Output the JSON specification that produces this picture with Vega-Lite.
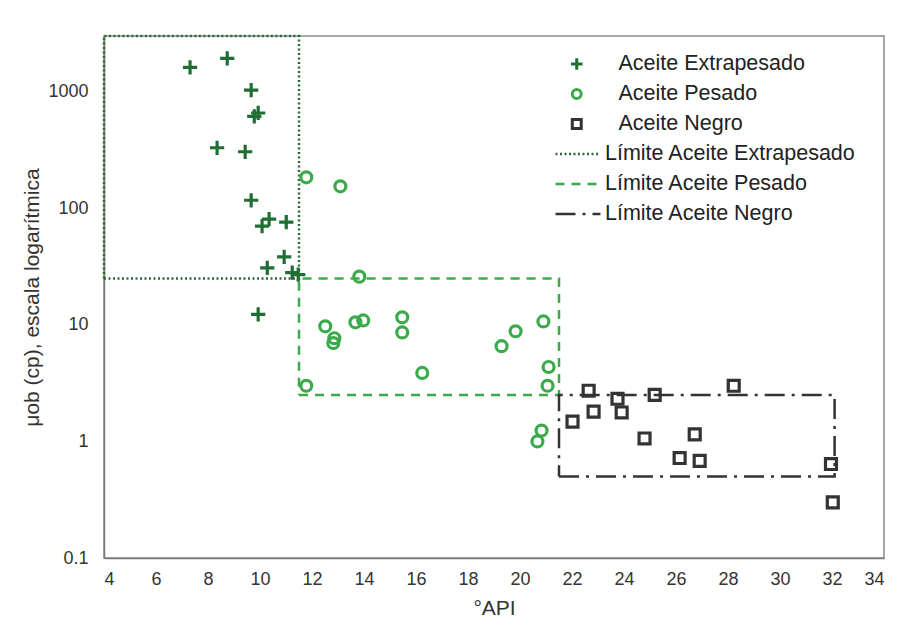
{
  "$schema": "https://vega.github.io/schema/vega-lite/v6.json",
  "width": 780,
  "height": 522,
  "autosize": "none",
  "padding": {"left": 104, "top": 36, "right": 31, "bottom": 78},
  "background": "white",
  "config": {
    "view": {"stroke": "#8a8a8a", "strokeWidth": 1.5},
    "font": "Liberation Sans",
    "axis": {
      "grid": false, "ticks": false, "domainColor": "#7a7a7a", "domainWidth": 1.5,
      "labelFont": "Liberation Sans", "labelFontSize": 18, "labelColor": "#333",
      "titleFont": "Liberation Sans", "titleFontSize": 21, "titleFontWeight": "normal", "titleColor": "#333"
    },
    "legend": {"labelFont": "Liberation Sans", "labelFontSize": 21.5, "labelColor": "#222", "title": null, "labelLimit": 400}
  },
  "datasets": {
    "pts": [
      {"api": 7.31, "mu": 1617, "tipo": "Aceite Extrapesado"},
      {"api": 8.74, "mu": 1928, "tipo": "Aceite Extrapesado"},
      {"api": 9.66, "mu": 1030, "tipo": "Aceite Extrapesado"},
      {"api": 9.78, "mu": 614, "tipo": "Aceite Extrapesado"},
      {"api": 9.93, "mu": 656, "tipo": "Aceite Extrapesado"},
      {"api": 8.35, "mu": 330, "tipo": "Aceite Extrapesado"},
      {"api": 9.43, "mu": 305, "tipo": "Aceite Extrapesado"},
      {"api": 9.66, "mu": 117, "tipo": "Aceite Extrapesado"},
      {"api": 10.08, "mu": 70.3, "tipo": "Aceite Extrapesado"},
      {"api": 10.35, "mu": 80.6, "tipo": "Aceite Extrapesado"},
      {"api": 11.01, "mu": 76, "tipo": "Aceite Extrapesado"},
      {"api": 10.93, "mu": 38.3, "tipo": "Aceite Extrapesado"},
      {"api": 10.28, "mu": 30.8, "tipo": "Aceite Extrapesado"},
      {"api": 11.24, "mu": 28, "tipo": "Aceite Extrapesado"},
      {"api": 11.47, "mu": 26.9, "tipo": "Aceite Extrapesado"},
      {"api": 9.93, "mu": 12.3, "tipo": "Aceite Extrapesado"},
      {"api": 11.78, "mu": 184, "tipo": "Aceite Pesado"},
      {"api": 13.09, "mu": 154, "tipo": "Aceite Pesado"},
      {"api": 13.82, "mu": 25.9, "tipo": "Aceite Pesado"},
      {"api": 12.51, "mu": 9.7, "tipo": "Aceite Pesado"},
      {"api": 12.86, "mu": 7.67, "tipo": "Aceite Pesado"},
      {"api": 12.82, "mu": 6.97, "tipo": "Aceite Pesado"},
      {"api": 13.67, "mu": 10.5, "tipo": "Aceite Pesado"},
      {"api": 13.97, "mu": 10.9, "tipo": "Aceite Pesado"},
      {"api": 15.47, "mu": 11.6, "tipo": "Aceite Pesado"},
      {"api": 15.47, "mu": 8.6, "tipo": "Aceite Pesado"},
      {"api": 16.24, "mu": 3.87, "tipo": "Aceite Pesado"},
      {"api": 19.29, "mu": 6.56, "tipo": "Aceite Pesado"},
      {"api": 19.83, "mu": 8.8, "tipo": "Aceite Pesado"},
      {"api": 20.9, "mu": 10.7, "tipo": "Aceite Pesado"},
      {"api": 21.1, "mu": 4.35, "tipo": "Aceite Pesado"},
      {"api": 21.06, "mu": 3.0, "tipo": "Aceite Pesado"},
      {"api": 11.78, "mu": 3.0, "tipo": "Aceite Pesado"},
      {"api": 20.83, "mu": 1.24, "tipo": "Aceite Pesado"},
      {"api": 20.67, "mu": 1.0, "tipo": "Aceite Pesado"},
      {"api": 22.64, "mu": 2.72, "tipo": "Aceite Negro"},
      {"api": 23.75, "mu": 2.32, "tipo": "Aceite Negro"},
      {"api": 25.18, "mu": 2.51, "tipo": "Aceite Negro"},
      {"api": 28.22, "mu": 3.0, "tipo": "Aceite Negro"},
      {"api": 22.83, "mu": 1.8, "tipo": "Aceite Negro"},
      {"api": 23.91, "mu": 1.77, "tipo": "Aceite Negro"},
      {"api": 22.02, "mu": 1.48, "tipo": "Aceite Negro"},
      {"api": 24.79, "mu": 1.06, "tipo": "Aceite Negro"},
      {"api": 26.72, "mu": 1.15, "tipo": "Aceite Negro"},
      {"api": 26.14, "mu": 0.72, "tipo": "Aceite Negro"},
      {"api": 26.91, "mu": 0.68, "tipo": "Aceite Negro"},
      {"api": 31.96, "mu": 0.64, "tipo": "Aceite Negro"},
      {"api": 32.03, "mu": 0.3, "tipo": "Aceite Negro"}
    ],
    "lim": [
      {"api": 4, "mu": 25, "limite": "Límite Aceite Extrapesado", "ord": 1},
      {"api": 11.5, "mu": 25, "limite": "Límite Aceite Extrapesado", "ord": 2},
      {"api": 11.5, "mu": 3000, "limite": "Límite Aceite Extrapesado", "ord": 3},
      {"api": 4, "mu": 3000, "limite": "Límite Aceite Extrapesado", "ord": 4},
      {"api": 4, "mu": 25, "limite": "Límite Aceite Extrapesado", "ord": 5},
      {"api": 11.5, "mu": 2.5, "limite": "Límite Aceite Pesado", "ord": 1},
      {"api": 21.5, "mu": 2.5, "limite": "Límite Aceite Pesado", "ord": 2},
      {"api": 21.5, "mu": 25, "limite": "Límite Aceite Pesado", "ord": 3},
      {"api": 11.5, "mu": 25, "limite": "Límite Aceite Pesado", "ord": 4},
      {"api": 11.5, "mu": 2.5, "limite": "Límite Aceite Pesado", "ord": 5},
      {"api": 21.5, "mu": 0.5, "limite": "Límite Aceite Negro", "ord": 1},
      {"api": 32.1, "mu": 0.5, "limite": "Límite Aceite Negro", "ord": 2},
      {"api": 32.1, "mu": 2.5, "limite": "Límite Aceite Negro", "ord": 3},
      {"api": 21.5, "mu": 2.5, "limite": "Límite Aceite Negro", "ord": 4},
      {"api": 21.5, "mu": 0.5, "limite": "Límite Aceite Negro", "ord": 5}
    ]
  },
  "layer": [
    {
      "data": {"name": "lim"},
      "mark": {"type": "line", "strokeWidth": 2.5, "clip": false},
      "encoding": {
        "x": {"field": "api", "type": "quantitative", "scale": {"domain": [4, 34], "nice": false, "zero": false},
              "axis": {"values": [4,6,8,10,12,14,16,18,20,22,24,26,28,30,32,34], "labelPadding": 12, "title": "°API", "titlePadding": 9}},
        "y": {"field": "mu", "type": "quantitative", "scale": {"type": "log", "domain": [0.1, 3000], "nice": false},
              "axis": {"values": [0.1, 1, 10, 100, 1000], "format": "~g", "labelPadding": 16, "title": "μob (cp), escala logarítmica", "titlePadding": 5}},
        "order": {"field": "ord", "type": "quantitative"},
        "stroke": {"field": "limite", "type": "nominal",
                   "scale": {"domain": ["Límite Aceite Extrapesado", "Límite Aceite Pesado", "Límite Aceite Negro"], "range": ["#2d6b35", "#3aaa4a", "#333333"]},
                   "legend": {"orient": "none", "legendX": 450, "legendY": 103, "symbolSize": 2025, "symbolStrokeWidth": 2.5, "labelOffset": 3, "rowPadding": 0, "clipHeight": 30, "symbolType": "stroke"}},
        "strokeDash": {"field": "limite", "type": "nominal",
                   "scale": {"domain": ["Límite Aceite Extrapesado", "Límite Aceite Pesado", "Límite Aceite Negro"], "range": [[2, 2.5], [9, 7], [20, 7, 3, 7]]}}
      }
    },
    {
      "data": {"name": "pts"},
      "mark": {"type": "point", "filled": false, "strokeWidth": 3.2, "size": 120, "opacity": 1},
      "encoding": {
        "x": {"field": "api", "type": "quantitative"},
        "y": {"field": "mu", "type": "quantitative"},
        "color": {"field": "tipo", "type": "nominal",
                  "scale": {"domain": ["Aceite Extrapesado", "Aceite Pesado", "Aceite Negro"], "range": ["#1f6e33", "#3aaa4a", "#333333"]},
                  "legend": {"orient": "none", "legendX": 462, "legendY": 13, "labelOffset": 31, "rowPadding": 0, "clipHeight": 30, "symbolStrokeWidth": 3, "symbolSize": 80}},
        "shape": {"field": "tipo", "type": "nominal",
                  "scale": {"domain": ["Aceite Extrapesado", "Aceite Pesado", "Aceite Negro"], "range": ["M-1.3,0H1.3M0,-1.3V1.3", "circle", "square"]}}
      }
    }
  ]
}
